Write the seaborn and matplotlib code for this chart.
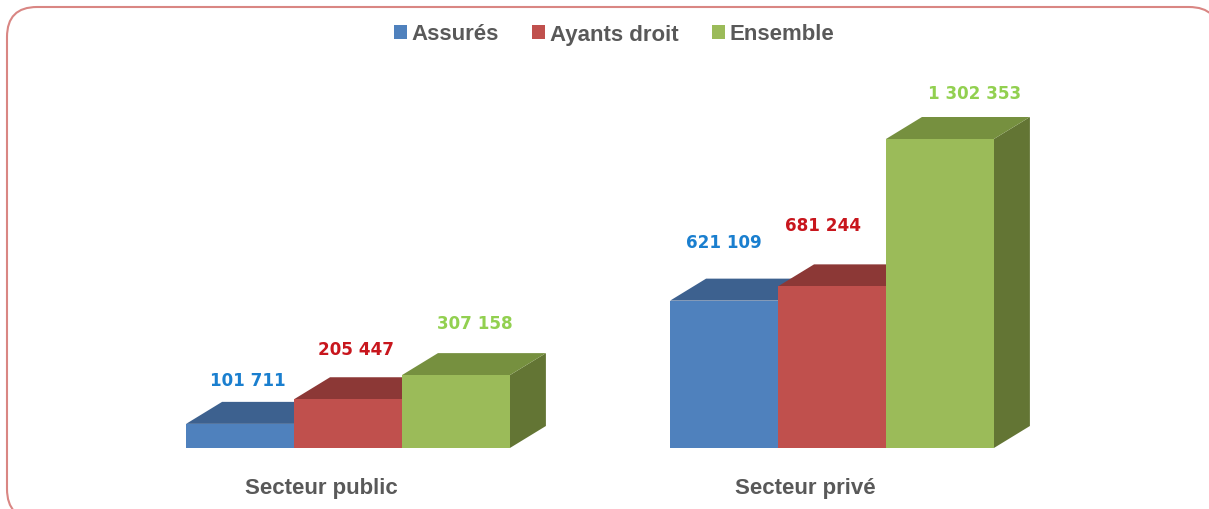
import pandas as pd
import seaborn as sns
import matplotlib.pyplot as plt
from matplotlib.patches import FancyBboxPatch, Polygon
from matplotlib.transforms import IdentityTransform, ScaledTranslation

# === Donnees ===
secteurs = ['Secteur public', 'Secteur privé']
series = ['Assurés', 'Ayants droit', 'Ensemble']
assures = [101711, 621109]
ayants_droit = [205447, 681244]
ensemble = [307158, 1302353]

# === Couleurs ===
c_face = ['#4F81BD', '#C0504D', '#9BBB59']
c_top = ['#3D618F', '#8C3836', '#76903F']
c_side = ['#324F75', '#6F2C2B', '#637534']
c_label = ['#1A7FCF', '#C8161D', '#92D050']
c_text = '#595959'

df = pd.DataFrame({
    'Secteur': secteurs * 3,
    'Serie': [s for s in series for _ in secteurs],
    'Valeur': assures + ayants_droit + ensemble,
})

W, H = 1209, 510
sns.set_theme(style='white')
plt.rcParams['font.family'] = ['Liberation Sans', 'DejaVu Sans']

fig = plt.figure(figsize=(W / 100, H / 100), dpi=100, facecolor='white')

# cadre arrondi (coupe par le bord de l'image), fond blanc sinon agg deforme les coins
cadre = FancyBboxPatch((7 + 30, H - 520 + 30), 1212 - 60, 512 - 60,
                       boxstyle='round,pad=30,rounding_size=30',
                       transform=IdentityTransform(), facecolor='white',
                       edgecolor='#D98683', linewidth=1.5, zorder=-1)
fig.add_artist(cadre)

# axes : x=0 tombe a 348 px, x=1 a 832 px, base des barres a 448 px
ax = fig.add_axes([106 / W, (H - 449) / H, 968 / W, 368 / H])
ax.patch.set_alpha(0)

sns.barplot(data=df, x='Secteur', y='Valeur', hue='Serie', hue_order=series,
            order=secteurs, palette=c_face, width=0.669, gap=0, saturation=1,
            errorbar=None, ax=ax, linewidth=0)
ax.set_xlim(-0.5, 1.5)
ax.set_ylim(0, max(ensemble) * 368 / 309)

# === Effet 3D : dessus et cote de chaque barre ===
dx = 36 / 484
dy = 22 * (max(ensemble) / 309)

bars = [b for c in ax.containers for b in c]
ordre = sorted(range(len(bars)), key=lambda i: bars[i].get_x())
# decalage des etiquettes en pixels (meme ordre que df)
dec_x = [8, 0, 8, -9, 19, 35]
dec_y = [44, 59, 50, 61, 52, 46]

for z, i in enumerate(ordre):
    b = bars[i]
    x0, x1, h = b.get_x(), b.get_x() + b.get_width(), b.get_height()
    serie = i // len(secteurs)
    ax.add_patch(Polygon([(x1, 0), (x1 + dx, dy), (x1 + dx, h + dy), (x1, h)],
                         facecolor=c_side[serie], edgecolor='none', zorder=2 + z * 2))
    ax.add_patch(Polygon([(x0, h), (x0 + dx, h + dy), (x1 + dx, h + dy), (x1, h)],
                         facecolor=c_top[serie], edgecolor='none', zorder=3 + z * 2))
    b.set_zorder(30)
    ax.annotate(f'{int(h):,}'.replace(',', ' '), ((x0 + x1) / 2, h),
                xytext=(dec_x[i], dec_y[i]), textcoords='offset pixels',
                ha='center', va='center', color=c_label[serie], fontsize=12.1,
                fontweight='bold', family='DejaVu Sans', zorder=40)

# === Axes ===
sns.despine(ax=ax, left=True, bottom=True)
ax.set_xlabel('')
ax.set_ylabel('')
ax.set_yticks([])
ax.set_xticks(range(len(secteurs)))
ax.set_xticklabels(secteurs, fontsize=16, fontweight='bold', color=c_text)
ax.tick_params(axis='x', length=0, pad=21)
for lab in ax.get_xticklabels():
    lab.set_transform(lab.get_transform() + ScaledTranslation(-0.27, 0, fig.dpi_scale_trans))

# === Legende ===
sns.move_legend(ax, 'center', bbox_to_anchor=(614 / W, (H - 35) / H),
                bbox_transform=fig.transFigure, ncol=3, frameon=False, title=None,
                fontsize=16, handlelength=0.585, handleheight=0.585,
                handletextpad=0.2, columnspacing=1.5)
for t in ax.get_legend().get_texts():
    t.set_color(c_text)
    t.set_fontweight('bold')

plt.savefig('out.png', dpi=100)
